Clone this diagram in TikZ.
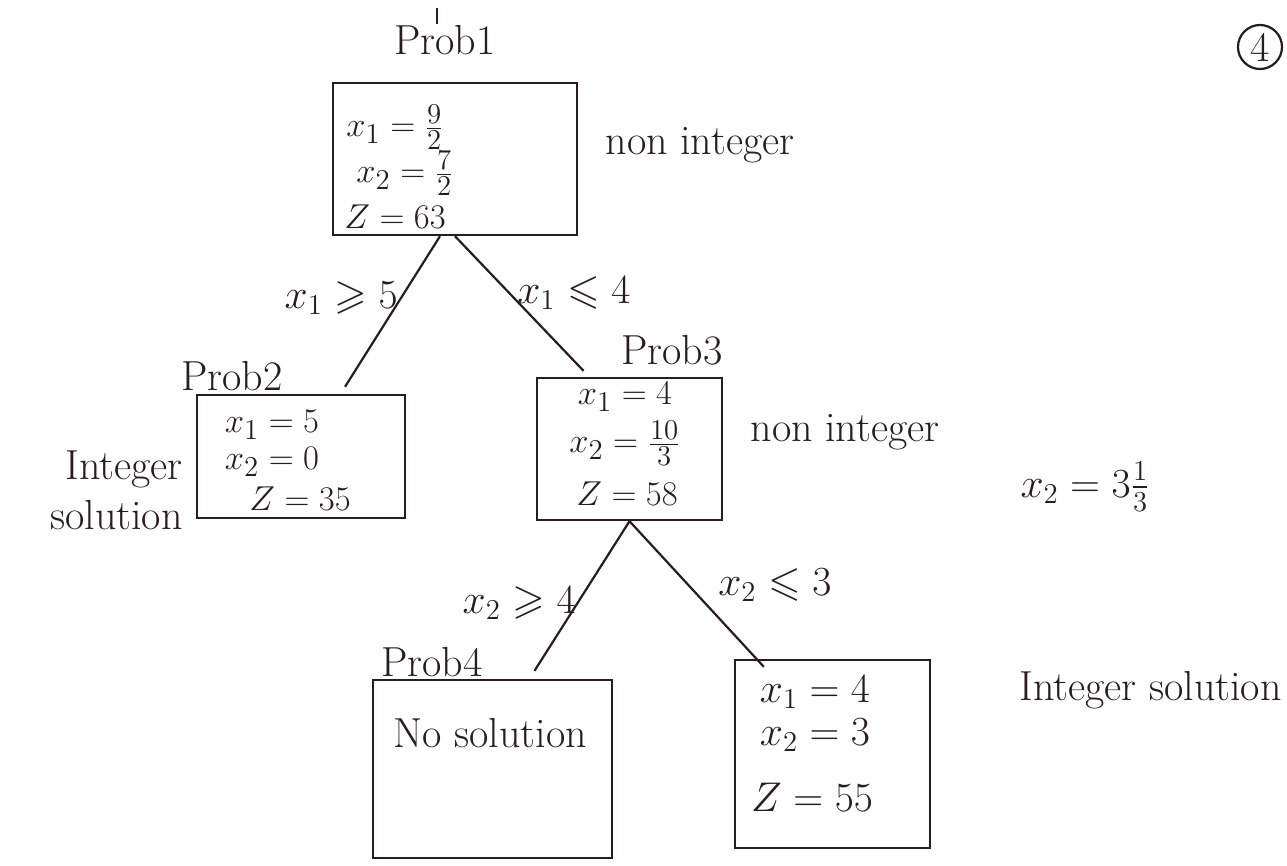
\documentclass[tikz,border=0pt]{standalone}
\usepackage{amsmath,amssymb}
\definecolor{ink}{RGB}{40,28,28}
\begin{document}
\begin{tikzpicture}[x=0.5pt,y=-0.5pt,
  every node/.style={text=ink,font=\fontsize{21}{25}\selectfont},
  box/.style={draw=ink,line width=1.2pt,rectangle,inner sep=0pt},
  edge/.style={draw=ink,line width=1.1pt},
  lbl/.style={inner sep=1pt},
  small/.style={lbl,font=\fontsize{19}{23}\selectfont}]
\useasboundingbox (0,0) rectangle (1287,866);
% boxes
\node[box,minimum width=122pt,minimum height=76pt] (p1) at (455,159) {};
\node[box,minimum width=104pt,minimum height=61.5pt] (p2) at (301,456.5) {};
\node[box,minimum width=92.5pt,minimum height=71pt] (p3) at (629.5,449) {};
\node[box,minimum width=119.5pt,minimum height=89pt] (p4) at (492.5,769) {};
\node[box,minimum width=97.5pt,minimum height=94pt] (p5) at (832.5,754) {};
% box titles
\node[lbl] (t1) at (445,40) {Prob1};
\node[lbl] (t2) at (232,376) {Prob2};
\node[lbl] (t3) at (672,350) {Prob3};
\node[lbl] (t4) at (432,662) {Prob4};
% stray tick
\coordinate (k1) at (437,8);
\coordinate (k2) at (437,24);
\draw[edge] (k1) -- (k2);
% contents
\node[small] (a1) at (395,127) {$x_1=\frac{9}{2}$};
\node[small] (a2) at (405,173) {$x_2=\frac{7}{2}$};
\node[small] (a3) at (395,217) {$Z=63$};
\node[small] (b1) at (272,425) {$x_1=5$};
\node[small] (b2) at (272,462) {$x_2=0$};
\node[small] (b3) at (300,499) {$Z=35$};
\node[small] (c1) at (625,397) {$x_1=4$};
\node[small] (c2) at (625,443) {$x_2=\frac{10}{3}$};
\node[small] (c3) at (627,494) {$Z=58$};
\node[lbl] (d1) at (490,733) {No solution};
\node[lbl] (e1) at (815,692) {$x_1=4$};
\node[lbl] (e2) at (815,735) {$x_2=3$};
\node[lbl] (e3) at (812,797) {$Z=55$};
% side notes
\node[lbl] (n1) at (700,145) {non integer};
\node[lbl] (n3) at (845,432) {non integer};
\node[lbl,align=right,anchor=east] (n2) at (185,490) {Integer\\solution};
\node[lbl,anchor=east] (n5) at (1284,690) {Integer solution};
\node[lbl] (x2) at (1085,487) {$x_2=3\frac{1}{3}$};
\node[draw=ink,line width=1.1pt,circle,minimum size=22pt,inner sep=0pt] (pg) at (1260,47) {4};
% connectors
\draw[edge] ([xshift=-7.5pt]p1.south) -- ([xshift=22pt,yshift=3.5pt]p2.north);
\draw[edge] (p1.south) -- ([xshift=-23pt,yshift=3pt]p3.north);
\draw[edge] (p3.south) -- ([xshift=21pt,yshift=4pt]p4.north);
\draw[edge] (p3.south) -- ([xshift=15pt,yshift=-4pt]p5.north west);
% edge labels
\node[lbl,anchor=east] (l1) at (400,298) {$x_1\geqslant 5$};
\node[lbl,anchor=west] (l2) at (515,293) {$x_1\leqslant 4$};
\node[lbl,anchor=east] (l3) at (578,603) {$x_2\geqslant 4$};
\node[lbl,anchor=west] (l4) at (716,585) {$x_2\leqslant 3$};
\end{tikzpicture}
\end{document}
